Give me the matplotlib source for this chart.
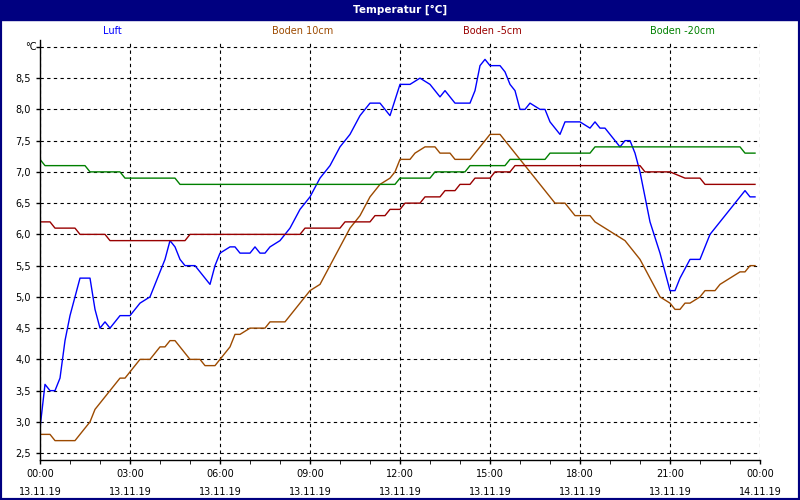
import matplotlib.pyplot as plt
from matplotlib.patches import Rectangle

# Zeit in Minuten seit 13.11.19 00:00
luft_t = [0, 10, 20, 30, 40, 50, 60, 70, 80, 100,
          110, 120, 130, 140, 150, 160, 180, 190, 200, 220,
          240, 250, 260, 270, 280, 290, 310, 320, 330, 340,
          350, 360, 380, 390, 400, 420, 430, 440, 450, 460,
          480, 500, 520, 540, 560, 580, 600, 620, 640, 660,
          680, 690, 700, 720, 740, 760, 780, 790, 800, 810,
          820, 830, 860, 870, 880, 890, 900, 920, 930, 940,
          950, 960, 970, 980, 1000, 1010, 1020, 1030, 1040, 1050,
          1080, 1100, 1110, 1120, 1130, 1140, 1150, 1160, 1170, 1180,
          1190, 1200, 1210, 1220, 1240, 1250, 1260, 1270, 1280, 1300,
          1320, 1330, 1340, 1360, 1380, 1400, 1410, 1420, 1430]
luft = [2.9, 3.6, 3.5, 3.5, 3.7, 4.3, 4.7, 5.0, 5.3, 5.3,
        4.8, 4.5, 4.6, 4.5, 4.6, 4.7, 4.7, 4.8, 4.9, 5.0,
        5.4, 5.6, 5.9, 5.8, 5.6, 5.5, 5.5, 5.4, 5.3, 5.2,
        5.5, 5.7, 5.8, 5.8, 5.7, 5.7, 5.8, 5.7, 5.7, 5.8,
        5.9, 6.1, 6.4, 6.6, 6.9, 7.1, 7.4, 7.6, 7.9, 8.1,
        8.1, 8.0, 7.9, 8.4, 8.4, 8.5, 8.4, 8.3, 8.2, 8.3,
        8.2, 8.1, 8.1, 8.3, 8.7, 8.8, 8.7, 8.7, 8.6, 8.4,
        8.3, 8.0, 8.0, 8.1, 8.0, 8.0, 7.8, 7.7, 7.6, 7.8,
        7.8, 7.7, 7.8, 7.7, 7.7, 7.6, 7.5, 7.4, 7.5, 7.5,
        7.3, 7.0, 6.6, 6.2, 5.7, 5.4, 5.1, 5.1, 5.3, 5.6,
        5.6, 5.8, 6.0, 6.2, 6.4, 6.6, 6.7, 6.6, 6.6]

b10_t = [0, 20, 30, 70, 80, 100, 110, 120, 140, 160,
         170, 180, 200, 220, 230, 240, 250, 260, 270, 280,
         290, 300, 320, 330, 340, 350, 360, 380, 390, 400,
         420, 450, 460, 490, 500, 520, 540, 560, 580, 600,
         620, 640, 660, 680, 700, 710, 720, 740, 750, 770,
         790, 800, 820, 830, 860, 870, 890, 900, 920, 930,
         950, 970, 990, 1010, 1030, 1050, 1060, 1070, 1100, 1110,
         1130, 1150, 1170, 1180, 1200, 1220, 1240, 1260, 1270, 1280,
         1290, 1300, 1320, 1330, 1350, 1360, 1380, 1400, 1410, 1420, 1430]
b10 = [2.8, 2.8, 2.7, 2.7, 2.8, 3.0, 3.2, 3.3, 3.5, 3.7,
       3.7, 3.8, 4.0, 4.0, 4.1, 4.2, 4.2, 4.3, 4.3, 4.2,
       4.1, 4.0, 4.0, 3.9, 3.9, 3.9, 4.0, 4.2, 4.4, 4.4,
       4.5, 4.5, 4.6, 4.6, 4.7, 4.9, 5.1, 5.2, 5.5, 5.8,
       6.1, 6.3, 6.6, 6.8, 6.9, 7.0, 7.2, 7.2, 7.3, 7.4,
       7.4, 7.3, 7.3, 7.2, 7.2, 7.3, 7.5, 7.6, 7.6, 7.5,
       7.3, 7.1, 6.9, 6.7, 6.5, 6.5, 6.4, 6.3, 6.3, 6.2,
       6.1, 6.0, 5.9, 5.8, 5.6, 5.3, 5.0, 4.9, 4.8, 4.8,
       4.9, 4.9, 5.0, 5.1, 5.1, 5.2, 5.3, 5.4, 5.4, 5.5, 5.5]

b5_t = [0, 20, 30, 70, 80, 130, 140, 290, 300, 520, 530, 600, 610, 660, 670, 690, 700, 720, 730, 760,
        770, 800, 810, 830, 840, 860, 870, 900, 910, 940, 950, 1200, 1210, 1260, 1290, 1320, 1330, 1430]
b5 = [6.2, 6.2, 6.1, 6.1, 6.0, 6.0, 5.9, 5.9, 6.0, 6.0, 6.1, 6.1, 6.2, 6.2, 6.3, 6.3, 6.4, 6.4, 6.5, 6.5,
      6.6, 6.6, 6.7, 6.7, 6.8, 6.8, 6.9, 6.9, 7.0, 7.0, 7.1, 7.1, 7.0, 7.0, 6.9, 6.9, 6.8, 6.8]

b20_t = [0, 10, 90, 100, 160, 170, 270, 280, 710, 720, 780, 790, 850, 860, 930, 940, 1010, 1020, 1100,
         1110, 1400, 1410, 1430]
b20 = [7.2, 7.1, 7.1, 7.0, 7.0, 6.9, 6.9, 6.8, 6.8, 6.9, 6.9, 7.0, 7.0, 7.1, 7.1, 7.2, 7.2, 7.3, 7.3,
       7.4, 7.4, 7.3, 7.3]

serien = [('Luft', luft_t, luft, '#0000ff'),
          ('Boden 10cm', b10_t, b10, '#9c4a00'),
          ('Boden -5cm', b5_t, b5, '#990000'),
          ('Boden -20cm', b20_t, b20, '#008000')]

yticks = [2.5, 3.0, 3.5, 4.0, 4.5, 5.0, 5.5, 6.0, 6.5, 7.0, 7.5, 8.0, 8.5, 9.0]
xticks = [0, 180, 360, 540, 720, 900, 1080, 1260, 1440]
xlabels = ['00:00\n13.11.19', '03:00\n13.11.19', '06:00\n13.11.19', '09:00\n13.11.19',
           '12:00\n13.11.19', '15:00\n13.11.19', '18:00\n13.11.19', '21:00\n13.11.19',
           '00:00\n14.11.19']

fig = plt.figure(figsize=(8, 5), dpi=100)
# Titelleiste und Rahmen
fig.patches.append(Rectangle((0, 0.96), 1, 0.04, transform=fig.transFigure, color='#000080'))
fig.patches.append(Rectangle((0, 0), 1, 1, transform=fig.transFigure, fill=False,
                             edgecolor='#000080', linewidth=3))
fig.text(0.5, 0.98, 'Temperatur [°C]', color='white', ha='center', va='center',
         fontsize=7.5, fontweight='bold')

ax = fig.add_axes([0.05, 0.08, 0.9, 0.84])
for i, (name, t, v, c) in enumerate(serien):
    ax.plot(t, v, color=c, linewidth=1)
    fig.text(0.141 + i * 0.2375, 0.938, name, color=c, ha='center', va='center', fontsize=7)

ax.set_xlim(0, 1440)
ax.set_ylim(2.39, 9.11)
ax.set_yticks(yticks)
ax.set_yticklabels([f'{y:.1f}'.replace('.', ',') if y < 9 else '' for y in yticks], fontsize=7)
ax.set_xticks(xticks)
ax.set_xticklabels(xlabels, fontsize=7, linespacing=2.0)
ax.set_xticks(range(0, 1441, 60), minor=True)
ax.tick_params(direction='out', length=3, width=1)
ax.tick_params(which='minor', length=3)
ax.grid(True, color='black', linestyle=(0, (3, 3)), linewidth=0.8)
for s in ax.spines.values():
    s.set_linewidth(1)
ax.spines['top'].set_visible(False)
ax.spines['right'].set_visible(False)
ax.text(-0.005, 9.0, '°C', ha='right', va='center', fontsize=7, transform=ax.get_yaxis_transform())

fig.savefig('out.png', dpi=100)
